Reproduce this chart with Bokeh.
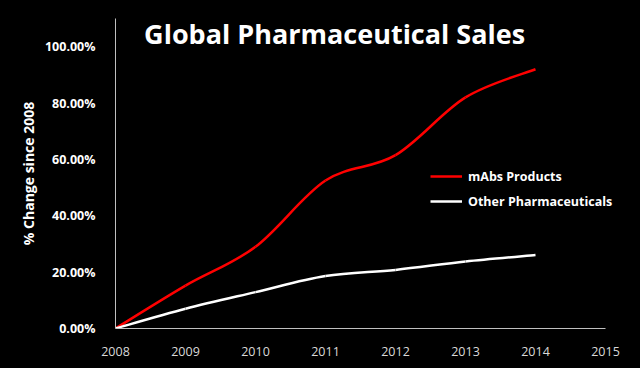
from bokeh.plotting import figure
from bokeh.models import Legend, LegendItem, Label, NumeralTickFormatter, ColumnDataSource, Range1d
from bokeh.embed import file_html
from bokeh.resources import INLINE

years = [2008, 2009, 2010, 2011, 2012, 2013, 2014]
mabs = [0.0, 0.152, 0.29, 0.525, 0.615, 0.82, 0.92]
other = [0.0, 0.07, 0.129, 0.186, 0.208, 0.238, 0.261]
x_ticks = [2008, 2009, 2010, 2011, 2012, 2013, 2014, 2015]
y_ticks = [0.0, 0.2, 0.4, 0.6, 0.8, 1.0]
title_text = "Global Pharmaceutical Sales"
y_label = "% Change since 2008"
names = ["mAbs Products", "Other Pharmaceuticals"]
colors = ["#ff0000", "#ffffff"]

FONT = "Open Sans"


def smooth_segments(xs, ys):
    n = len(xs)
    d = dict(x0=[], y0=[], x1=[], y1=[], cx0=[], cy0=[], cx1=[], cy1=[])
    for i in range(n - 1):
        pm = max(i - 1, 0)
        pp = min(i + 2, n - 1)
        d["x0"].append(xs[i]); d["y0"].append(ys[i])
        d["x1"].append(xs[i + 1]); d["y1"].append(ys[i + 1])
        d["cx0"].append(xs[i] + (xs[i + 1] - xs[pm]) / 6)
        d["cy0"].append(ys[i] + (ys[i + 1] - ys[pm]) / 6)
        d["cx1"].append(xs[i + 1] - (xs[pp] - xs[i]) / 6)
        d["cy1"].append(ys[i + 1] - (ys[pp] - ys[i]) / 6)
    return ColumnDataSource(d)


p = figure(width=640, height=368, output_backend="svg", toolbar_location=None,
           x_range=Range1d(2008, 2015.2), y_range=Range1d(0, 1.10),
           min_border_left=115, min_border_right=21, min_border_top=18, min_border_bottom=40)
p.background_fill_color = "black"
p.border_fill_color = "black"
p.outline_line_color = None
p.xgrid.grid_line_color = None
p.ygrid.grid_line_color = None

items = []
for series, name, col in [(mabs, names[0], colors[0]), (other, names[1], colors[1])]:
    src = smooth_segments(years, series)
    r = p.bezier(x0="x0", y0="y0", x1="x1", y1="y1", cx0="cx0", cy0="cy0", cx1="cx1", cy1="cy1",
                 source=src, line_color=col, line_width=2.5)
    items.append(LegendItem(label=name, renderers=[r], index=0))

legend = Legend(items=items, location=(315, 117), padding=0, margin=0, spacing=5,
                glyph_width=32, glyph_height=20, label_standoff=6,
                background_fill_alpha=0, border_line_color=None,
                label_text_color="white", label_text_font=FONT,
                label_text_font_style="bold", label_text_font_size="12.5px")
p.add_layout(legend, "center")

# axes
p.xaxis.ticker = x_ticks
p.xaxis.bounds = (2008, 2015)
p.yaxis.ticker = y_ticks
p.yaxis.formatter = NumeralTickFormatter(format="0.00%")
for ax in (p.xaxis[0], p.yaxis[0]):
    ax.axis_line_color = "#bfbfbf"
    ax.axis_line_width = 1
    ax.major_tick_line_color = None
    ax.minor_tick_line_color = None
    ax.major_label_text_font = FONT
    ax.major_label_text_font_size = "12.5px"
p.xaxis.major_label_text_color = "#d9d9d9"
p.xaxis.major_label_standoff = 12
p.yaxis.major_label_text_color = "white"
p.yaxis.major_label_text_font_style = "bold"
p.yaxis.major_label_standoff = 14
p.yaxis.axis_label = y_label
p.yaxis.axis_label_text_color = "white"
p.yaxis.axis_label_text_font = FONT
p.yaxis.axis_label_text_font_style = "bold"
p.yaxis.axis_label_text_font_size = "14px"
p.yaxis.axis_label_standoff = 4

title = Label(x=2011.13, y=1.046, text=title_text, text_align="center", text_baseline="middle",
              text_color="white", text_font=FONT, text_font_style="bold", text_font_size="27px")
p.add_layout(title)

html = file_html(p, INLINE)
html = html.replace("<head>", "<head><style>html,body{background:#000;}</style>", 1)
open("out.html", "w").write(html)
